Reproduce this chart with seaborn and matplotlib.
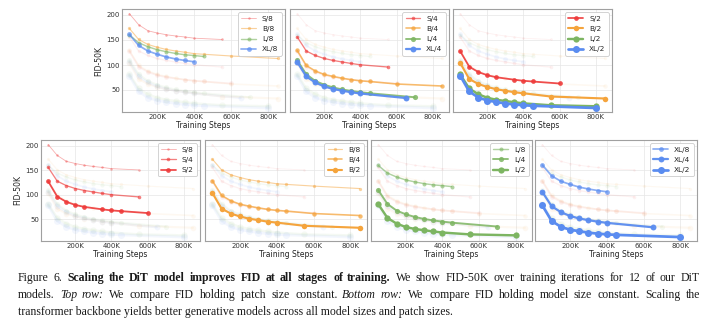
import matplotlib
matplotlib.use("Agg")
import matplotlib.pyplot as plt
import seaborn as sns

# ---------------- data (training steps in K, FID-50K) ----------------
S8_steps = [50, 100, 150, 200, 250, 300, 350, 400, 550]
S8_fid = [202.5, 180.5, 168.5, 164, 160.5, 158, 156, 153.6, 151]
S4_steps = [50, 100, 150, 200, 250, 300, 350, 400, 550]
S4_fid = [156, 128, 119, 113, 109, 106, 103, 100.4, 96]
S2_steps = [50, 100, 150, 200, 250, 350, 400, 450, 600]
S2_fid = [127.5, 96.5, 86, 79.5, 75.5, 70.5, 68.4, 67, 63]

B8_steps = [50, 100, 150, 200, 250, 300, 350, 400, 450, 600, 850]
B8_fid = [173, 151, 141, 135.5, 131, 128, 125.5, 122.7, 121.5, 118, 113]
B4_steps = [50, 100, 150, 200, 250, 300, 350, 400, 450, 600, 850]
B4_fid = [129, 99, 88, 81, 77, 73.5, 70.5, 68.4, 67, 62, 58]
B2_steps = [50, 100, 150, 200, 250, 300, 350, 400, 550, 850]
B2_fid = [104, 72, 62, 56, 51.5, 48.5, 45.5, 43.5, 37, 33]

L8_steps = [50, 100, 150, 200, 250, 300, 350, 400, 450]
L8_fid = [160, 144.5, 136.5, 130.5, 126.5, 123, 120.5, 118.9, 117]
L4_steps = [50, 100, 150, 200, 250, 300, 350, 400, 450, 700]
L4_fid = [109.5, 81.5, 68, 60.5, 55, 51, 48, 45.6, 43.5, 35.5]
L2_steps = [50, 100, 150, 200, 250, 300, 350, 400, 550, 800]
L2_fid = [81, 53, 41.5, 34.5, 30.5, 28, 25.5, 23.3, 19.5, 17.5]

XL8_steps = [50, 100, 150, 200, 250, 300, 350, 400]
XL8_fid = [161, 139, 128, 121.5, 116, 112, 109, 106.4]
XL4_steps = [50, 100, 150, 200, 250, 300, 350, 400, 650]
XL4_fid = [106, 77, 65, 57, 52, 48.5, 45.5, 43, 34]
XL2_steps = [50, 100, 150, 200, 250, 300, 350, 400, 450, 800]
XL2_fid = [78.5, 47, 35, 29, 26, 23, 21, 19.5, 18.5, 14]

models = ["S", "B", "L", "XL"]
patches = ["8", "4", "2"]
xtick_vals = [200, 400, 600, 800]
xtick_labels = ["200K", "400K", "600K", "800K"]
ytick_vals = [50, 100, 150, 200]

series = {
    ("S", "8"): (S8_steps, S8_fid), ("S", "4"): (S4_steps, S4_fid), ("S", "2"): (S2_steps, S2_fid),
    ("B", "8"): (B8_steps, B8_fid), ("B", "4"): (B4_steps, B4_fid), ("B", "2"): (B2_steps, B2_fid),
    ("L", "8"): (L8_steps, L8_fid), ("L", "4"): (L4_steps, L4_fid), ("L", "2"): (L2_steps, L2_fid),
    ("XL", "8"): (XL8_steps, XL8_fid), ("XL", "4"): (XL4_steps, XL4_fid), ("XL", "2"): (XL2_steps, XL2_fid),
}
colors = {"S": "#EE3A3A", "B": "#F5A43C", "L": "#7DB562", "XL": "#5A8CF0"}

# ---------------- figure ----------------
sns.set_theme(style="whitegrid")
plt.rcParams["font.family"] = ["DejaVu Sans"]
W, H = 707, 324
fig = plt.figure(figsize=(W / 100, H / 100), dpi=100)


def rect(x0, x1, y0, y1):
    return [x0 / W, 1 - y1 / H, (x1 - x0) / W, (y1 - y0) / H]


def style(m, p):
    mi = models.index(m)
    pi = patches.index(p)
    lw = 0.6 + 0.22 * mi + 0.35 * pi
    ms = 1.8 + 0.55 * mi + 0.8 * pi
    alpha = min(1.0, 0.4 + 0.1 * mi + 0.25 * pi)
    return lw, ms, alpha


def panel(ax, highlight, first_col):
    for key, (xs, ys) in series.items():
        if key in highlight:
            continue
        lw, ms, _ = style(*key)
        sns.lineplot(x=xs, y=ys, ax=ax, color=colors[key[0]], lw=lw, marker="o",
                     ms=ms, mew=0, alpha=0.07, legend=False)
    handles, labels = [], []
    for key in highlight:
        xs, ys = series[key]
        lw, ms, a = style(*key)
        sns.lineplot(x=xs, y=ys, ax=ax, color=colors[key[0]], lw=lw, marker="o",
                     ms=ms, mew=0, mec=colors[key[0]], alpha=a, legend=False)
        handles.append(ax.lines[-1])
        labels.append(f"{key[0]}/{key[1]}")
    leg = ax.legend(handles, labels, loc="upper right", fontsize=5.3, frameon=True,
                    handlelength=2.0, handletextpad=0.8, labelspacing=0.55,
                    borderpad=0.45, borderaxespad=0.45, fancybox=True)
    leg.get_frame().set_edgecolor("#cccccc")
    leg.get_frame().set_linewidth(0.6)
    leg.get_frame().set_alpha(1)
    ax.set_xlim(10, 890)
    ax.set_ylim(6, 212)
    ax.set_xticks(xtick_vals)
    ax.set_xticklabels(xtick_labels)
    ax.set_yticks(ytick_vals)
    if first_col:
        ax.set_yticklabels([str(v) for v in ytick_vals])
        ax.set_ylabel("FID-50K", fontsize=5.5, labelpad=2, color="#222222")
    else:
        ax.set_yticklabels([])
        ax.set_ylabel("")
    ax.set_xlabel("Training Steps", fontsize=5.5, labelpad=1.0, color="#222222")
    ax.tick_params(length=0, pad=1.5, labelsize=5.0, colors="#333333")
    ax.grid(color="#e6e6e6", lw=0.5)
    ax.set_facecolor("white")
    for s in ax.spines.values():
        s.set_color("#a0a0a0")
        s.set_linewidth(0.8)


top_rects = [rect(122, 285, 9, 112), rect(290, 449, 9, 112), rect(453, 612, 9, 112)]
bot_rects = [rect(41, 200, 140, 241), rect(205, 367, 140, 241),
             rect(371, 532, 140, 241), rect(535, 697, 140, 241)]

for i, p in enumerate(patches):
    ax = fig.add_axes(top_rects[i])
    panel(ax, [(m, p) for m in models], i == 0)

for i, m in enumerate(models):
    ax = fig.add_axes(bot_rects[i])
    panel(ax, [(m, p) for p in patches], i == 0)

# ---------------- caption ----------------
caption_lines = [
    ([("Figure 6.", "normal", "normal"),
      ("Scaling the DiT model improves FID at all stages of training.", "bold", "normal"),
      ("We show FID-50K over training iterations for 12 of our DiT", "normal", "normal")], True),
    ([("models.", "normal", "normal"), ("Top row:", "normal", "italic"),
      ("We compare FID holding patch size constant.", "normal", "normal"),
      ("Bottom row:", "normal", "italic"),
      ("We compare FID holding model size constant. Scaling the", "normal", "normal")], True),
    ([("transformer backbone yields better generative models across all model sizes and patch sizes.",
       "normal", "normal")], False),
]
cap_x0, cap_x1 = 18, 700
baselines = [281, 298, 315]
FS = 8.5
renderer = fig.canvas.get_renderer()


def segments_of(line):
    out = []
    for seg, wt, st in line:
        for w in seg.split(" "):
            out.append((w, wt, st))
    return out


def measure(words, fs):
    ws = []
    for w, wt, st in words:
        t = fig.text(0, 0, w, fontsize=fs, family="Liberation Serif", weight=wt, style=st)
        ws.append(t.get_window_extent(renderer).width)
        t.remove()
    return ws


for (line, justify), yb in zip(caption_lines, baselines):
    if not justify:
        seg, wt, st = line[0]
        fig.text(cap_x0 / W, 1 - yb / H, seg, fontsize=FS, family="Liberation Serif",
                 weight=wt, style=st, va="baseline", ha="left", color="#1a1a1a")
        continue
    words = segments_of(line)
    ws = measure(words, FS)
    gap = (cap_x1 - cap_x0 - sum(ws)) / (len(ws) - 1)
    x = cap_x0
    for (w, wt, st), wd in zip(words, ws):
        fig.text(round(x) / W, 1 - yb / H, w, fontsize=FS, family="Liberation Serif",
                 weight=wt, style=st, va="baseline", ha="left", color="#1a1a1a")
        x += wd + gap

fig.savefig("out.png", dpi=100, facecolor="white")
